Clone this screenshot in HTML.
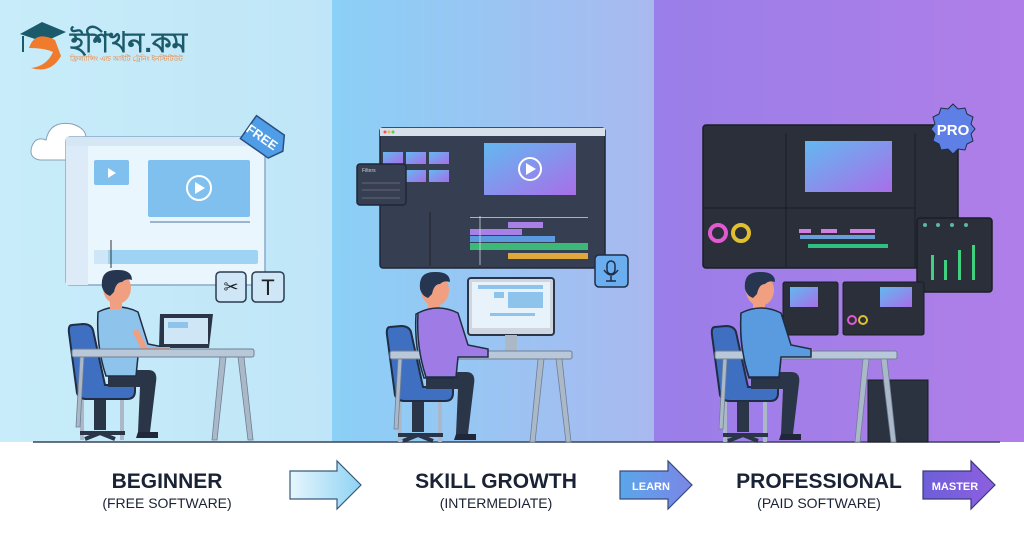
<!DOCTYPE html>
<html><head><meta charset="utf-8"><style>
html,body{margin:0;padding:0;width:1024px;height:559px;overflow:hidden;background:#fff}
svg{display:block}
text{font-family:"Liberation Sans",sans-serif}
</style></head><body>
<svg width="1024" height="559" viewBox="0 0 1024 559" xmlns="http://www.w3.org/2000/svg">
<defs>
<linearGradient id="g1" x1="0" x2="1"><stop offset="0" stop-color="#c8ecf9"/><stop offset="1" stop-color="#bfe6f8"/></linearGradient>
<linearGradient id="g2" x1="0" x2="1"><stop offset="0" stop-color="#8bd0f6"/><stop offset="1" stop-color="#a9b9f0"/></linearGradient>
<linearGradient id="g3" x1="0" x2="1"><stop offset="0" stop-color="#9a7ee9"/><stop offset="1" stop-color="#b07ee8"/></linearGradient>
<linearGradient id="vid" x1="0" x2="1" y1="0" y2="1"><stop offset="0" stop-color="#63b8f0"/><stop offset="1" stop-color="#a86ee8"/></linearGradient>
<linearGradient id="a1" x1="0" x2="1"><stop offset="0" stop-color="#e6f6fd"/><stop offset="1" stop-color="#8fd3f3"/></linearGradient>
<linearGradient id="a2" x1="0" x2="1"><stop offset="0" stop-color="#5aa6ea"/><stop offset="1" stop-color="#7b86e6"/></linearGradient>
<linearGradient id="a3" x1="0" x2="1"><stop offset="0" stop-color="#6d5fd8"/><stop offset="1" stop-color="#8e5fe0"/></linearGradient>
<g id="scene">
  <!-- chair -->
  <rect x="80" y="385" width="4" height="55" fill="#aab8c8"/>
  <rect x="120" y="385" width="4" height="55" fill="#aab8c8"/>
  <rect x="94" y="395" width="12" height="35" fill="#2b3548"/>
  <path d="M80 433 h45 M100 433 l-15 6 M100 433 l15 6" stroke="#2b3548" stroke-width="4"/>
  <path d="M72 325 q-4 0 -3 8 l8 60 q2 6 10 6 h40 q8 0 8 -8 v-6 h-30 l-12 -55 q-2 -6 -10 -6z" fill="#3f6fc0" stroke="#1f2d45" stroke-width="2"/>
  <!-- legs -->
  <path d="M108 370 h40 q10 0 8 12 l-6 50 h-12 l2 -45 h-32z" fill="#2b3548"/>
  <path d="M138 432 h20 v6 h-22z" fill="#1f2738"/>
  <!-- body -->
  <path d="M98 312 q20 -10 40 0 l10 32 l20 4 l0 8 h-30 l-2 20 h-30 q-10 -30 -8 -64z" fill="#8ec3ec" stroke="#1f2d45" stroke-width="1.5"/>
  <path d="M135 330 l10 20 h25" stroke="#f0a080" stroke-width="6" fill="none"/>
  <!-- head -->
  <rect x="110" y="297" width="12" height="12" fill="#f0a080"/>
  <ellipse cx="117" cy="288" rx="14" ry="16" fill="#f0a080"/>
  <path d="M102 287 q-2 -18 16 -17 q14 0 14 10 q-6 -2 -10 2 q-6 0 -8 10 l-4 4 q-6 -2 -8 -9z" fill="#263550"/>
  <!-- desk -->
  <rect x="72" y="349" width="182" height="8" rx="2" fill="#b9c8d8" stroke="#6f7f95"/>
  <path d="M220 357 l-8 83 h5 l9 -83z M238 357 l10 83 h5 l-9 -83z M80 357 l-4 70 h4 l4 -70z" fill="#aab8c8" stroke="#6f7f95" stroke-width="0.8"/>
</g>
</defs>
<!-- backgrounds -->
<rect x="0" y="0" width="332" height="442" fill="url(#g1)"/>
<rect x="332" y="0" width="322" height="442" fill="url(#g2)"/>
<rect x="654" y="0" width="370" height="442" fill="url(#g3)"/>
<line x1="33" y1="442" x2="1000" y2="442" stroke="#3a4558" stroke-width="1.5"/>

<!-- logo -->
<path d="M20 34 l22 -12 l24 10 l-22 10z" fill="#1b5a6b"/>
<line x1="23" y1="36" x2="23" y2="52" stroke="#1b5a6b" stroke-width="2"/>
<path d="M55 40 q-20 -10 -26 8 q16 0 24 4 q-6 14 -22 16 q20 6 30 -12z" fill="#f07b2c"/>
<text x="70" y="52" font-size="28" font-weight="bold" fill="#1b5a6b" font-family="Noto Sans CJK SC,Liberation Sans,sans-serif">ইশিখন.কম</text>
<text x="70" y="61" font-size="7" fill="#f07b2c">ফ্রিল্যান্সিং এন্ড আইটি ট্রেনিং ইনস্টিটিউট</text>

<!-- LEFT panel UI -->
<path d="M40 160 q-12 -2 -8 -14 q4 -10 14 -6 q4 -20 26 -16 q14 4 14 14 q10 0 8 12 q0 10 -10 10z" fill="#fff" stroke="#8aa0b8"/>
<rect x="66" y="137" width="199" height="148" rx="4" fill="#eaf6fd" stroke="#8aa8c8" stroke-width="1.5"/>
<rect x="66" y="137" width="199" height="9" fill="#d5e7f5"/>
<rect x="66" y="146" width="22" height="139" fill="#dcebf7"/>
<rect x="94" y="160" width="35" height="25" rx="2" fill="#7fc0ef"/>
<path d="M108 168 l8 5 l-8 5z" fill="#fff"/>
<rect x="148" y="160" width="102" height="57" rx="2" fill="#7fc0ef"/>
<circle cx="199" cy="188" r="12" fill="none" stroke="#fff" stroke-width="2"/><path d="M195 182 l10 6 l-10 6z" fill="#fff"/>
<rect x="150" y="221" width="100" height="2" fill="#9bb5d0"/>
<rect x="94" y="250" width="164" height="14" rx="2" fill="#9fd3f3"/>
<rect x="94" y="250" width="14" height="14" fill="#cfe6f6"/>
<line x1="111" y1="240" x2="111" y2="268" stroke="#333"/>
<g transform="rotate(35 264 138)"><path d="M245 124 h34 l8 14 l-8 14 h-34z" fill="#4f9de6" stroke="#2b4e80" stroke-width="1.5"/><text x="262" y="143" font-size="13" font-weight="bold" fill="#fff" text-anchor="middle">FREE</text></g>
<rect x="216" y="272" width="30" height="30" rx="4" fill="#cfe6f6" stroke="#2b3a50" stroke-width="1.5"/><text x="231" y="293" font-size="18" text-anchor="middle" fill="#222">✂</text>
<rect x="252" y="272" width="32" height="30" rx="4" fill="#cfe6f6" stroke="#2b3a50" stroke-width="1.5"/><text x="268" y="295" font-size="22" text-anchor="middle" fill="#222" font-family="Liberation Serif,serif">T</text>
<!-- laptop -->
<path d="M160 314 h53 l-4 34 h-50z" fill="#2b3548"/>
<rect x="164" y="318" width="44" height="26" fill="#cfe6f6"/>
<rect x="168" y="322" width="20" height="6" fill="#8ec3ec"/>
<use href="#scene"/>

<!-- MIDDLE panel UI -->
<rect x="380" y="128" width="225" height="140" rx="3" fill="#363f52" stroke="#1f2738" stroke-width="1.5"/>
<rect x="380" y="128" width="225" height="8" fill="#d7dfe8"/>
<circle cx="385" cy="132" r="1.5" fill="#e55"/><circle cx="389" cy="132" r="1.5" fill="#eb4"/><circle cx="393" cy="132" r="1.5" fill="#5c5"/>
<rect x="383" y="152" width="20" height="12" fill="url(#vid)"/><rect x="406" y="152" width="20" height="12" fill="url(#vid)"/><rect x="429" y="152" width="20" height="12" fill="url(#vid)"/>
<rect x="406" y="170" width="20" height="12" fill="url(#vid)"/><rect x="429" y="170" width="20" height="12" fill="url(#vid)"/>
<rect x="484" y="143" width="92" height="52" fill="url(#vid)"/>
<circle cx="530" cy="169" r="11" fill="none" stroke="#fff" stroke-width="2"/><path d="M526 163 l10 6 l-10 6z" fill="#fff"/>
<line x1="430" y1="212" x2="430" y2="266" stroke="#222"/>
<rect x="470" y="217" width="118" height="1" fill="#c9b84c"/>
<rect x="508" y="222" width="35" height="6" fill="#a880e6"/>
<rect x="470" y="229" width="52" height="6" fill="#a880e6"/>
<rect x="470" y="236" width="85" height="6" fill="#5a9be0"/>
<rect x="470" y="243" width="118" height="7" fill="#3cb878"/>
<rect x="508" y="253" width="80" height="6" fill="#e0a83a"/>
<line x1="480" y1="216" x2="480" y2="265" stroke="#cfd6e0" stroke-width="0.8"/>
<rect x="357" y="164" width="49" height="41" rx="3" fill="#363f52" stroke="#1f2738" stroke-width="1.5"/>
<text x="362" y="172" font-size="5" fill="#ccd">Filters</text>
<line x1="362" y1="183" x2="400" y2="183" stroke="#667"/><line x1="362" y1="190" x2="400" y2="190" stroke="#667"/><line x1="362" y1="198" x2="400" y2="198" stroke="#667"/>
<rect x="595" y="255" width="33" height="32" rx="4" fill="#6aaef0" stroke="#1f2d45" stroke-width="1.5"/>
<rect x="607" y="261" width="8" height="13" rx="4" fill="none" stroke="#1f2d45" stroke-width="1.5"/><path d="M604 270 q7 10 14 0 M611 276 v5 M606 281 h10" stroke="#1f2d45" fill="none" stroke-width="1.5"/>
<!-- monitor -->
<rect x="468" y="278" width="86" height="57" rx="3" fill="#cfd6e0" stroke="#2b3548" stroke-width="2"/>
<rect x="472" y="282" width="78" height="46" fill="#e8f2fb"/>
<rect x="478" y="285" width="65" height="4" fill="#8ec3ec"/>
<rect x="508" y="292" width="35" height="16" fill="#8ec3ec"/><rect x="494" y="292" width="10" height="6" fill="#8ec3ec"/>
<rect x="490" y="313" width="45" height="3" fill="#8ec3ec"/>
<rect x="505" y="335" width="12" height="16" fill="#aab8c8"/>
<g transform="translate(318,2)"><use href="#scene"/></g>
<path d="M418 313 q20 -10 40 0 l10 32 l20 4 l0 8 h-30 l-2 20 h-30 q-10 -30 -8 -64z" fill="#9f7be6" stroke="#1f2d45" stroke-width="1.5"/>

<!-- RIGHT panel UI -->
<rect x="703" y="125" width="255" height="143" rx="3" fill="#2a2f3a" stroke="#1a1e26" stroke-width="1.5"/>
<line x1="786" y1="133" x2="786" y2="268" stroke="#1a1e26"/><line x1="915" y1="133" x2="915" y2="268" stroke="#1a1e26"/>
<line x1="703" y1="208" x2="915" y2="208" stroke="#1a1e26"/>
<rect x="805" y="141" width="87" height="51" fill="url(#vid)"/>
<circle cx="718" cy="233" r="8" fill="none" stroke="#e05ad0" stroke-width="4"/><circle cx="741" cy="233" r="8" fill="none" stroke="#e0c030" stroke-width="4"/>
<rect x="799" y="229" width="12" height="4" fill="#d080e0"/><rect x="821" y="229" width="16" height="4" fill="#d080e0"/><rect x="850" y="229" width="25" height="4" fill="#d080e0"/>
<rect x="800" y="235" width="75" height="4" fill="#6a9ed8"/>
<rect x="808" y="244" width="80" height="4" fill="#2fbf80"/>
<path d="M953 104 l5 5 l7 -1 l2 6 l6 3 l-2 7 l4 5 l-4 5 l2 7 l-6 3 l-2 6 l-7 -1 l-5 5 l-5 -5 l-7 1 l-2 -6 l-6 -3 l2 -7 l-4 -5 l4 -5 l-2 -7 l6 -3 l2 -6 l7 1z" fill="#5e80e6" stroke="#1f2d45"/>
<text x="953" y="135" font-size="15" font-weight="bold" fill="#fff" text-anchor="middle">PRO</text>
<rect x="917" y="218" width="75" height="74" rx="3" fill="#2a2f3a" stroke="#1a1e26" stroke-width="1.5"/>
<g fill="#3fd080"><rect x="931" y="255" width="3" height="25"/><rect x="944" y="260" width="3" height="20"/><rect x="958" y="250" width="3" height="30"/><rect x="972" y="245" width="3" height="35"/></g>
<g fill="#5ab8a0"><circle cx="925" cy="225" r="2"/><circle cx="938" cy="225" r="2"/><circle cx="952" cy="225" r="2"/><circle cx="966" cy="225" r="2"/></g>
<rect x="783" y="282" width="55" height="53" rx="2" fill="#2a2f3a" stroke="#1a1e26"/>
<rect x="790" y="287" width="28" height="20" fill="url(#vid)"/>
<rect x="843" y="282" width="81" height="53" rx="2" fill="#2a2f3a" stroke="#1a1e26"/>
<rect x="880" y="287" width="32" height="20" fill="url(#vid)"/>
<circle cx="852" cy="320" r="4" fill="none" stroke="#e05ad0" stroke-width="2"/><circle cx="863" cy="320" r="4" fill="none" stroke="#e0c030" stroke-width="2"/>
<rect x="868" y="380" width="60" height="62" fill="#2b3340" stroke="#1a1e26"/>
<g transform="translate(643,2)"><use href="#scene"/></g>
<path d="M741 313 q20 -10 40 0 l10 32 l20 4 l0 8 h-30 l-2 20 h-30 q-10 -30 -8 -64z" fill="#5a9be0" stroke="#1f2d45" stroke-width="1.5"/>

<!-- bottom labels -->
<text x="167" y="488" font-size="21" font-weight="bold" fill="#1a2235" text-anchor="middle">BEGINNER</text>
<text x="167" y="508" font-size="14" fill="#1a2235" text-anchor="middle">(FREE SOFTWARE)</text>
<path d="M290 471 h47 v-10 l24 24 l-24 24 v-10 h-47z" fill="url(#a1)" stroke="#3a5a7a" stroke-width="1.2"/>
<text x="496" y="488" font-size="21" font-weight="bold" fill="#1a2235" text-anchor="middle">SKILL GROWTH</text>
<text x="496" y="508" font-size="14" fill="#1a2235" text-anchor="middle">(INTERMEDIATE)</text>
<path d="M620 471 h48 v-10 l24 24 l-24 24 v-10 h-48z" fill="url(#a2)" stroke="#3a4a7a" stroke-width="1.2"/>
<text x="651" y="490" font-size="11" font-weight="bold" fill="#fff" text-anchor="middle">LEARN</text>
<text x="819" y="488" font-size="21" font-weight="bold" fill="#1a2235" text-anchor="middle">PROFESSIONAL</text>
<text x="819" y="508" font-size="14" fill="#1a2235" text-anchor="middle">(PAID SOFTWARE)</text>
<path d="M923 471 h48 v-10 l24 24 l-24 24 v-10 h-48z" fill="url(#a3)" stroke="#3a3a7a" stroke-width="1.2"/>
<text x="955" y="490" font-size="11" font-weight="bold" fill="#fff" text-anchor="middle">MASTER</text>
</svg>
</body></html>
